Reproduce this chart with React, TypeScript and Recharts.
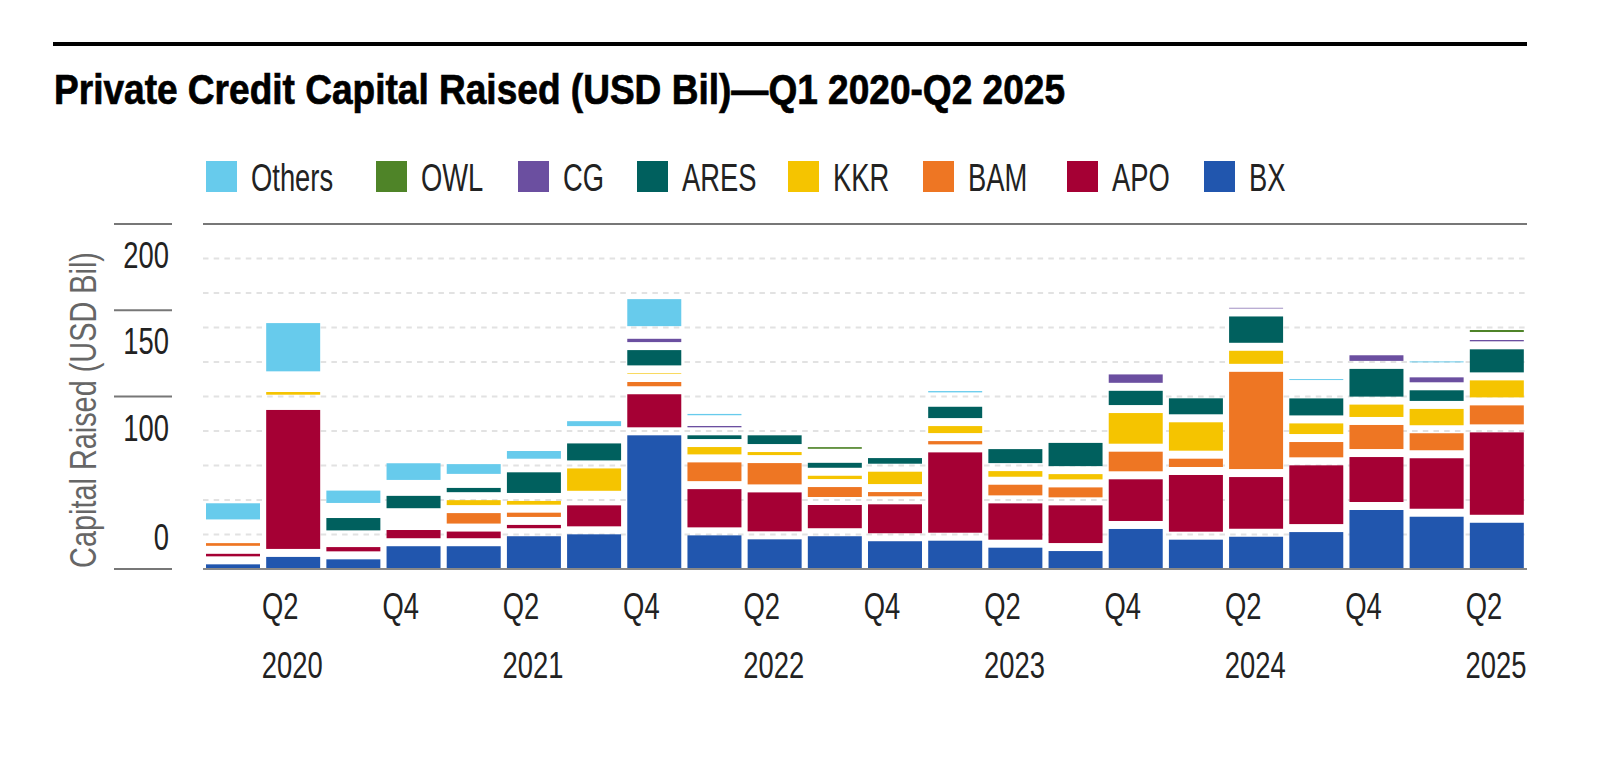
import { BarChart, Bar, XAxis, YAxis, ReferenceLine, CartesianGrid } from 'recharts';

const quarters = [
  'Q1 2020', 'Q2 2020', 'Q3 2020', 'Q4 2020',
  'Q1 2021', 'Q2 2021', 'Q3 2021', 'Q4 2021',
  'Q1 2022', 'Q2 2022', 'Q3 2022', 'Q4 2022',
  'Q1 2023', 'Q2 2023', 'Q3 2023', 'Q4 2023',
  'Q1 2024', 'Q2 2024', 'Q3 2024', 'Q4 2024',
  'Q1 2025', 'Q2 2025',
];

// USD bil per quarter, stacked bottom -> top
const bx = [2.7, 7.0, 5.6, 13.2, 13.2, 19.0, 20.1, 77.5, 19.5, 17.2, 19.0, 16.1, 16.4, 12.35, 10.4, 23.2, 17.0, 18.7, 21.4, 34.2, 30.3, 26.8];
const apo = [6.1, 85.2, 7.1, 9.4, 8.5, 6.55, 16.8, 23.8, 26.8, 27.2, 18.1, 21.4, 51.2, 25.7, 26.5, 28.8, 37.5, 34.6, 38.7, 30.7, 33.9, 52.4];
const bam = [6.2, 4.2, 2.55, 4.0, 10.7, 7.1, 3.8, 7.1, 15.5, 17.0, 10.4, 7.1, 6.55, 10.8, 10.4, 16.0, 9.45, 61.0, 13.5, 18.6, 14.5, 15.65];
const kkr = [4.5, 6.2, 2.5, 4.0, 7.5, 6.8, 17.6, 5.0, 8.9, 6.4, 6.55, 11.8, 8.7, 7.9, 7.7, 22.4, 21.1, 12.2, 10.8, 11.8, 14.1, 14.5];
const ares = [4.6, 3.7, 11.8, 11.8, 7.1, 16.6, 14.5, 13.5, 6.8, 9.7, 7.5, 7.9, 11.2, 12.75, 18.1, 12.9, 13.9, 19.9, 14.5, 20.7, 10.8, 18.0];
const cg = [0, 3.65, 4.1, 4.6, 3.5, 3.25, 2.7, 6.55, 5.4, 0, 3.5, 0, 3.7, 0, 0, 9.5, 0, 5.0, 3.0, 7.9, 7.5, 5.4];
const owl = [0, 0, 0, 0, 0, 0, 2.7, 2.7, 1.6, 0, 5.6, 0, 0, 0, 0, 0, 0, 0, 3.0, 0, 4.05, 5.8];
const others = [14.0, 32.6, 11.8, 14.3, 10.3, 9.1, 7.5, 20.3, 5.4, 0, 0, 0, 5.4, 0, 0, 0, 0, 0, 5.2, 0, 5.2, 0];

const yTicks = [0, 100, 150, 200];
const gridValues = [20, 40, 60, 80, 100, 120, 140, 160, 180];

const colors: Record<string, string> = {
  BX: '#2156ae',
  APO: '#a50034',
  BAM: '#ee7623',
  KKR: '#f5c400',
  ARES: '#00605e',
  CG: '#6b4fa0',
  OWL: '#4f8428',
  Others: '#67cbec',
};

const stackOrder = ['BX', 'APO', 'BAM', 'KKR', 'ARES', 'CG', 'OWL', 'Others'];
const legendOrder = [...stackOrder].reverse();
const legendX = [206, 376, 518, 637, 788, 923, 1067, 1204];

const data = quarters.map((quarter, i) => ({
  quarter,
  BX: bx[i],
  APO: apo[i],
  BAM: bam[i],
  KKR: kkr[i],
  ARES: ares[i],
  CG: cg[i],
  OWL: owl[i],
  Others: others[i],
}));

const FONT = "'Liberation Sans', Arial, sans-serif";
const GAP = 8;

// condensed look: Arial metrics squeezed horizontally
const Narrow = ({ x, y, sx = 0.74, size = 37, anchor = 'start', fill = '#222', children }: any) => (
  <text
    transform={`translate(${x} ${y}) scale(${sx} 1)`}
    textAnchor={anchor}
    fontFamily={FONT}
    fontSize={size}
    fill={fill}
  >
    {children}
  </text>
);

// white gap between stacked segments (bottom series sits on the axis)
function segmentShape(isBase: boolean) {
  return (props: any) => {
    const { x, y, width, height, fill } = props;
    const h = isBase ? height : height - GAP;
    if (!(h > 0)) return <g />;
    return <rect x={x} y={y} width={width} height={h} fill={fill} />;
  };
}

const YTick = (props: any) => {
  const { y, payload } = props;
  const ty = payload.value === 0 ? y - 19 : y + 44;
  return (
    <g>
      <line x1={114} x2={172} y1={y} y2={y} stroke="#777" strokeWidth={2} />
      <Narrow x={169} y={ty} anchor="end">
        {payload.value}
      </Narrow>
    </g>
  );
};

const XTick = (props: any) => {
  const { x, payload } = props;
  const [q, year] = String(payload.value).split(' ');
  if (q === 'Q1' || q === 'Q3') return <g />;
  return (
    <g>
      <Narrow x={x - 13} y={619} anchor="middle">
        {q}
      </Narrow>
      {q === 'Q2' && (
        <Narrow x={x - 1} y={678} anchor="middle">
          {year}
        </Narrow>
      )}
    </g>
  );
};

const YTitle = () => (
  <g transform="rotate(-90 83 410)">
    <Narrow x={83} y={423} sx={0.78} anchor="middle" fill="#666">
      Capital Raised (USD Bil)
    </Narrow>
  </g>
);

export default function App() {
  return (
    <div style={{ position: 'absolute', left: 0, top: 0, width: 1598, height: 764, background: '#fff' }}>
      <svg width={1598} height={210} style={{ position: 'absolute', left: 0, top: 0 }}>
        <rect x={53} y={42} width={1474} height={4} fill="#000" />
        <text
          x={54}
          y={104}
          fontFamily={FONT}
          fontWeight={700}
          fontSize={42}
          textLength={1011}
          lengthAdjust="spacingAndGlyphs"
          fill="#000"
          stroke="#000"
          strokeWidth={0.7}
        >
          Private Credit Capital Raised (USD Bil)—Q1 2020-Q2 2025
        </text>
        {legendOrder.map((name, i) => (
          <g key={name}>
            <rect x={legendX[i]} y={161} width={31} height={31} fill={colors[name]} />
            <Narrow x={legendX[i] + 45} y={191} sx={0.72} size={38}>
              {name}
            </Narrow>
          </g>
        ))}
      </svg>

      <div style={{ position: 'absolute', left: 0, top: 0 }}>
        <BarChart
          width={1598}
          height={764}
          data={data}
          margin={{ top: 224, right: 71, bottom: 0, left: 0 }}
          barCategoryGap={3}
        >
          <CartesianGrid
            vertical={false}
            horizontalValues={gridValues}
            stroke="#e2e2e2"
            strokeWidth={2}
            strokeDasharray="5.5 5.2"
          />
          <ReferenceLine y={200} stroke="#777" strokeWidth={2} />
          <XAxis
            dataKey="quarter"
            height={195}
            interval={0}
            tickLine={false}
            axisLine={{ stroke: '#888', strokeWidth: 2 }}
            tick={<XTick />}
          />
          <YAxis
            width={203}
            domain={[0, 200]}
            ticks={yTicks}
            axisLine={false}
            tickLine={false}
            tick={<YTick />}
            label={<YTitle />}
          />
          {stackOrder.map((key, i) => (
            <Bar
              key={key}
              dataKey={key}
              stackId="a"
              fill={colors[key]}
              isAnimationActive={false}
              shape={segmentShape(i === 0)}
            />
          ))}
        </BarChart>
      </div>
    </div>
  );
}
